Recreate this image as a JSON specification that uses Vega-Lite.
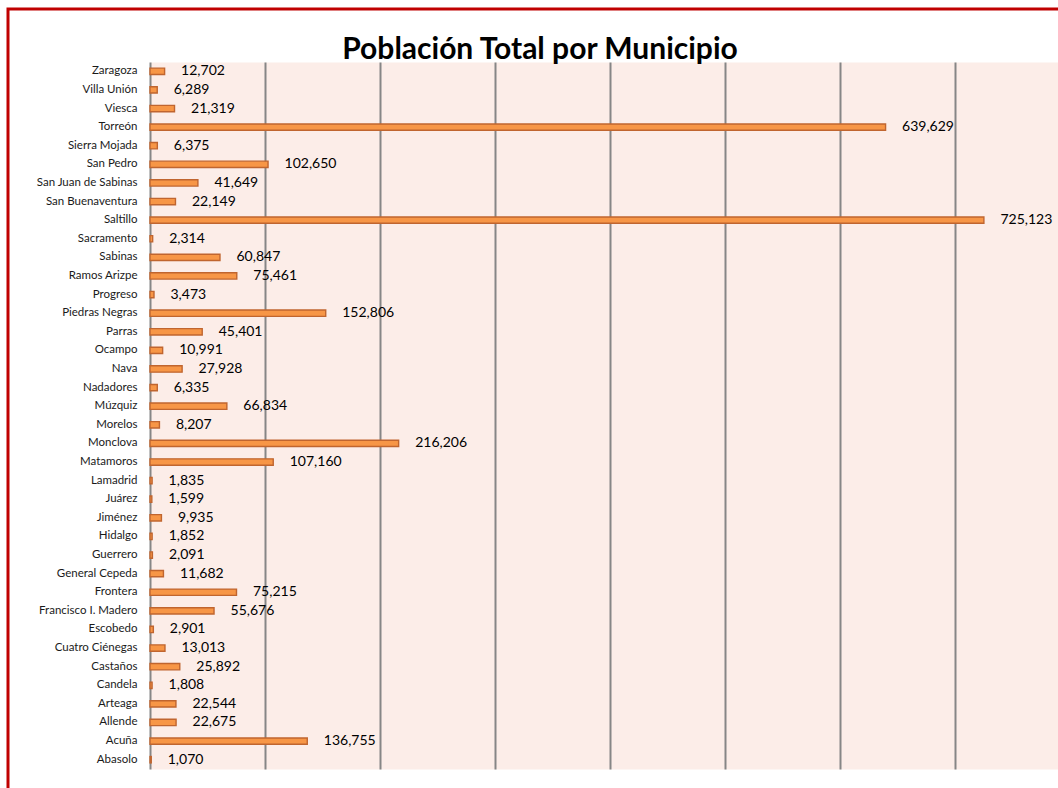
{
  "$schema": "https://vega.github.io/schema/vega-lite/v6.json",
  "width": 1064,
  "height": 790,
  "autosize": {"type": "none"},
  "padding": {"left": 8, "top": 9, "right": -14, "bottom": -11},
  "background": "white",
  "title": {
    "text": "Población Total por Municipio",
    "font": "Lato",
    "fontSize": 30,
    "fontWeight": "bold",
    "color": "#000000",
    "anchor": "middle",
    "orient": "top",
    "frame": "group",
    "baseline": "alphabetic",
    "offset": -80
  },
  "config": {
    "view": {"stroke": "#C00000", "strokeWidth": 3, "fill": "white"}
  },
  "data": {
    "values": [
      {"municipio": "Zaragoza", "poblacion": 12702},
      {"municipio": "Villa Unión", "poblacion": 6289},
      {"municipio": "Viesca", "poblacion": 21319},
      {"municipio": "Torreón", "poblacion": 639629},
      {"municipio": "Sierra Mojada", "poblacion": 6375},
      {"municipio": "San Pedro", "poblacion": 102650},
      {"municipio": "San Juan de Sabinas", "poblacion": 41649},
      {"municipio": "San Buenaventura", "poblacion": 22149},
      {"municipio": "Saltillo", "poblacion": 725123},
      {"municipio": "Sacramento", "poblacion": 2314},
      {"municipio": "Sabinas", "poblacion": 60847},
      {"municipio": "Ramos Arizpe", "poblacion": 75461},
      {"municipio": "Progreso", "poblacion": 3473},
      {"municipio": "Piedras Negras", "poblacion": 152806},
      {"municipio": "Parras", "poblacion": 45401},
      {"municipio": "Ocampo", "poblacion": 10991},
      {"municipio": "Nava", "poblacion": 27928},
      {"municipio": "Nadadores", "poblacion": 6335},
      {"municipio": "Múzquiz", "poblacion": 66834},
      {"municipio": "Morelos", "poblacion": 8207},
      {"municipio": "Monclova", "poblacion": 216206},
      {"municipio": "Matamoros", "poblacion": 107160},
      {"municipio": "Lamadrid", "poblacion": 1835},
      {"municipio": "Juárez", "poblacion": 1599},
      {"municipio": "Jiménez", "poblacion": 9935},
      {"municipio": "Hidalgo", "poblacion": 1852},
      {"municipio": "Guerrero", "poblacion": 2091},
      {"municipio": "General Cepeda", "poblacion": 11682},
      {"municipio": "Frontera", "poblacion": 75215},
      {"municipio": "Francisco I. Madero", "poblacion": 55676},
      {"municipio": "Escobedo", "poblacion": 2901},
      {"municipio": "Cuatro Ciénegas", "poblacion": 13013},
      {"municipio": "Castaños", "poblacion": 25892},
      {"municipio": "Candela", "poblacion": 1808},
      {"municipio": "Arteaga", "poblacion": 22544},
      {"municipio": "Allende", "poblacion": 22675},
      {"municipio": "Acuña", "poblacion": 136755},
      {"municipio": "Abasolo", "poblacion": 1070}
    ]
  },
  "layer": [
    {
      "mark": {"type": "bar", "fill": "#F79646", "stroke": "#C0652F", "strokeWidth": 1.4},
      "encoding": {
        "y": {
          "field": "municipio",
          "type": "nominal",
          "sort": null,
          "scale": {"range": [53, 760], "paddingInner": 0.66, "paddingOuter": 0.33},
          "axis": {
            "orient": "left",
            "offset": -142,
            "title": null,
            "domain": false,
            "ticks": false,
            "grid": false,
            "labelPadding": 13,
            "labelFont": "Lato",
            "labelFontSize": 11.5,
            "labelColor": "#1a1a1a",
            "labelLimit": 300
          }
        },
        "x": {
          "field": "poblacion",
          "type": "quantitative",
          "scale": {"domain": [0, 800000], "range": [142, 1062], "nice": false},
          "axis": {
            "orient": "top",
            "values": [400000],
            "grid": true,
            "gridColor": "#FCEDE8",
            "gridWidth": 920,
            "gridOpacity": 1,
            "labels": false,
            "ticks": false,
            "domain": false,
            "title": null
          }
        }
      }
    },
    {
      "mark": {"type": "text", "align": "left", "baseline": "middle", "dx": 16.5, "font": "Lato", "fontSize": 14, "color": "#000000"},
      "encoding": {
        "y": {"field": "municipio", "type": "nominal", "sort": null},
        "x": {
          "field": "poblacion",
          "type": "quantitative",
          "axis": {
            "orient": "top",
            "values": [0, 100000, 200000, 300000, 400000, 500000, 600000, 700000, 800000],
            "grid": true,
            "gridColor": "#868686",
            "gridWidth": 2,
            "gridOpacity": 1,
            "labels": false,
            "ticks": false,
            "domain": false,
            "title": null
          }
        },
        "text": {"field": "poblacion", "type": "quantitative", "format": ","}
      }
    }
  ],
  "resolve": {"axis": {"x": "independent"}}
}
